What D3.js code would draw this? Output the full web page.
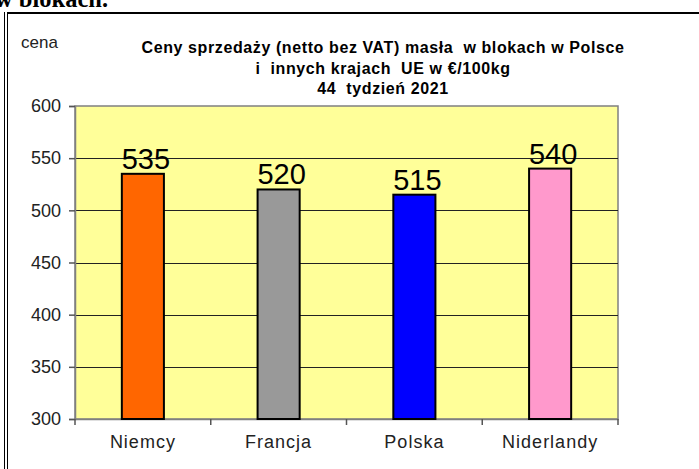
<!DOCTYPE html>
<html><head><meta charset="utf-8">
<script src="https://cdn.jsdelivr.net/npm/d3@7"></script>
<style>body{margin:0;background:#fff}svg{display:block}</style>
</head><body>
<svg id="c" width="699" height="469"></svg>
<script>
const categories = ["Niemcy", "Francja", "Polska", "Niderlandy"];
const values = [535, 520, 515, 540];
const colors = ["#FF6600", "#999999", "#0000FF", "#FF99CC"];
const yTicks = [300, 350, 400, 450, 500, 550, 600];
const titleLines = ["Ceny sprzedaży (netto bez VAT) masła  w blokach w Polsce", "i  innych krajach  UE w €/100kg", "44  tydzień 2021"];

const svg = d3.select("#c");
const W = 699, H = 469;
const m = {l: 75, r: 618, t: 106, b: 419};
svg.append("rect").attr("width", W).attr("height", H).attr("fill", "#fff");

// document fragments
svg.append("text").attr("x", -5).attr("y", 7).attr("font-family", "Liberation Serif").attr("font-weight", "bold")
  .attr("font-size", 24.5).text("w blokach.");
svg.append("line").attr("x1", 7).attr("x2", W).attr("y1", 13).attr("y2", 13).attr("stroke", "#000").attr("stroke-width", 2);
svg.append("line").attr("x1", 4.5).attr("x2", 4.5).attr("y1", 12).attr("y2", H).attr("stroke", "#000").attr("stroke-width", 1);
svg.append("line").attr("x1", 7.5).attr("x2", 7.5).attr("y1", 12).attr("y2", H).attr("stroke", "#000").attr("stroke-width", 1);

const x = d3.scaleBand().domain(categories).range([m.l, m.r]).padding(0);
const y = d3.scaleLinear().domain([300, 600]).range([m.b, m.t]);

svg.append("rect").attr("x", m.l).attr("y", m.t).attr("width", m.r - m.l).attr("height", m.b - m.t)
  .attr("fill", "#FFFF99").attr("stroke", "#808080").attr("stroke-width", 1.5);

// gridlines
svg.append("g").selectAll("line").data(yTicks.filter(d => d > 300 && d < 600)).join("line")
  .attr("x1", m.l).attr("x2", m.r).attr("y1", d => Math.round(y(d)) + 0.5).attr("y2", d => Math.round(y(d)) + 0.5)
  .attr("stroke", "#222").attr("stroke-width", 1);

// axes
const yAxis = svg.append("g").attr("transform", `translate(${m.l},0)`)
  .call(d3.axisLeft(y).tickValues(yTicks).tickSize(6).tickPadding(8).tickFormat(d3.format("d")));
const xAxis = svg.append("g").attr("transform", `translate(0,${m.b})`)
  .call(d3.axisBottom(x).tickSize(0).tickPadding(16));
// category boundary ticks
const bounds = categories.map(c => x(c)).concat([m.r]);
svg.append("g").selectAll("line").data(bounds).join("line")
  .attr("x1", d => d).attr("x2", d => d).attr("y1", m.b).attr("y2", m.b + 6)
  .attr("stroke", "#555").attr("stroke-width", 1.5);

[yAxis, xAxis].forEach(g => {
  g.select(".domain").attr("stroke", "#808080").attr("stroke-width", 1.5);
  g.selectAll(".tick line").attr("stroke", "#555").attr("stroke-width", 1.5);
  g.selectAll("text").attr("font-family", "Liberation Sans").attr("font-size", 18).attr("fill", "#222");
});
xAxis.selectAll("text").attr("letter-spacing", 1);

// bars
const bw = x.bandwidth() * 0.31;
svg.append("g").selectAll("rect").data(values).join("rect")
  .attr("x", (d, i) => x(categories[i]) + x.bandwidth() / 2 - bw / 2)
  .attr("y", d => y(d)).attr("width", bw).attr("height", d => m.b - y(d))
  .attr("fill", (d, i) => colors[i]).attr("stroke", "#000").attr("stroke-width", 2);

// value labels
svg.append("g").selectAll("text").data(values).join("text")
  .attr("x", (d, i) => x(categories[i]) + x.bandwidth() / 2 + 3)
  .attr("y", d => y(d) - 5).attr("text-anchor", "middle")
  .attr("font-family", "Liberation Sans").attr("font-size", 29).attr("fill", "#000")
  .text(d => d);

// title
svg.append("g").selectAll("text").data(titleLines).join("text")
  .attr("x", 383).attr("y", (d, i) => 53 + i * 20.5).attr("text-anchor", "middle")
  .attr("font-family", "Liberation Sans").attr("font-weight", "bold").attr("font-size", 16)
  .attr("letter-spacing", 0.6)
  .attr("fill", "#000").style("white-space", "pre").text(d => d);

svg.append("text").attr("x", 21).attr("y", 48).attr("font-family", "Liberation Sans")
  .attr("font-size", 17).attr("fill", "#222").text("cena");
</script>
</body></html>
